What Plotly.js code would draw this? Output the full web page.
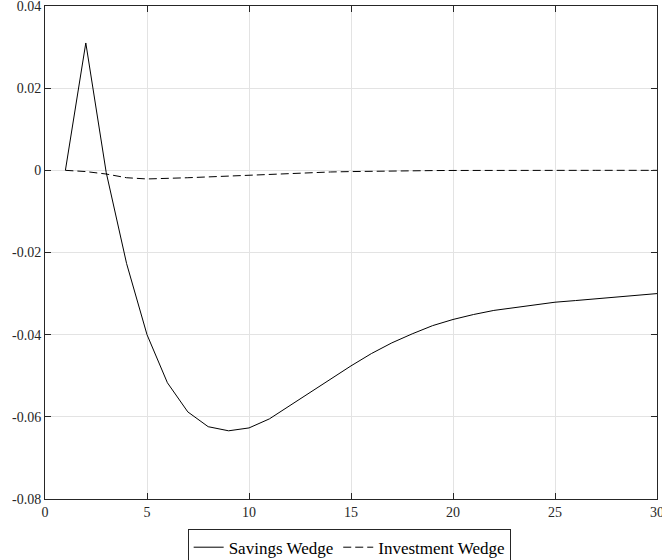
<!DOCTYPE html>
<html>
<head>
<meta charset="utf-8">
<script src="https://cdn.plot.ly/plotly-3.0.1.min.js"></script>
<style>
html,body{margin:0;padding:0;background:#fff;}
#chart{width:662px;height:560px;}
</style>
</head>
<body>
<div id="chart"></div>
<script>
const periods = [1,2,3,4,5,6,7,8,9,10,11,12,13,14,15,16,17,18,19,20,21,22,23,24,25,26,27,28,29,30];
const savingsWedge = [0, 0.031, -0.0005, -0.0227, -0.0400, -0.0517, -0.0588, -0.0624, -0.0634, -0.0627,
  -0.0605, -0.0573, -0.0540, -0.0507, -0.0476, -0.0446, -0.0420, -0.0398, -0.0378, -0.0363,
  -0.0351, -0.0341, -0.0334, -0.0327, -0.0321, -0.0317, -0.0313, -0.0309, -0.0305, -0.0300];
const investmentWedge = [0, -0.0003, -0.0009, -0.0018, -0.0021, -0.0020, -0.0018, -0.0016, -0.0014, -0.0011,
  -0.0009, -0.0007, -0.0005, -0.0004, -0.0003, -0.0002, -0.00015, -0.0001, -0.00006, -0.00003,
  0, 0, 0, 0, 0, 0, 0, 0, 0, 0];
const seriesNames = ['Savings Wedge', 'Investment Wedge'];
const xTickVals = [0,5,10,15,20,25,30];
const xTickText = ['0','5','10','15','20','25','30'];
const yTickVals = [-0.08,-0.06,-0.04,-0.02,0,0.02,0.04];
const yTickText = ['-0.08','-0.06','-0.04','-0.02','0','0.02','0.04'];

const serif = 'Liberation Serif, Times New Roman, serif';
const font = {family: serif, size: 14, color: '#262626'};

const traces = [
  {x: periods, y: savingsWedge, name: seriesNames[0], mode: 'lines', type: 'scatter',
   line: {color: '#000', width: 1}},
  {x: periods, y: investmentWedge, name: seriesNames[1], mode: 'lines', type: 'scatter',
   line: {color: '#000', width: 1, dash: '8px,4px'}}
];

const axisCommon = {
  showline: true, linecolor: '#262626', linewidth: 1, mirror: 'ticks',
  ticks: 'inside', ticklen: 6, tickcolor: '#262626', tickwidth: 1,
  showgrid: true, gridcolor: '#e3e3e3', gridwidth: 1, zeroline: false,
  tickfont: font, ticklabeloverflow: 'allow', automargin: false
};

const layout = {
  width: 662, height: 560,
  margin: {l: 45, r: 5, t: 6, b: 61, autoexpand: false},
  paper_bgcolor: '#fff', plot_bgcolor: '#fff',
  font: font,
  showlegend: true,
  legend: {
    orientation: 'h', x: 0.497, xanchor: 'center',
    yref: 'container', y: 0.056, yanchor: 'top',
    bordercolor: '#262626', borderwidth: 1, bgcolor: '#fff',
    font: {family: serif, size: 17, color: '#000'},
    itemwidth: 30, tracegroupgap: 0
  },
  xaxis: Object.assign({}, axisCommon, {range: [0, 30.0001], tickvals: xTickVals, ticktext: xTickText}),
  yaxis: Object.assign({}, axisCommon, {range: [-0.08, 0.040001], tickvals: yTickVals, ticktext: yTickText})
};

Plotly.newPlot('chart', traces, layout, {displayModeBar: false, staticPlot: true});
</script>
</body>
</html>
